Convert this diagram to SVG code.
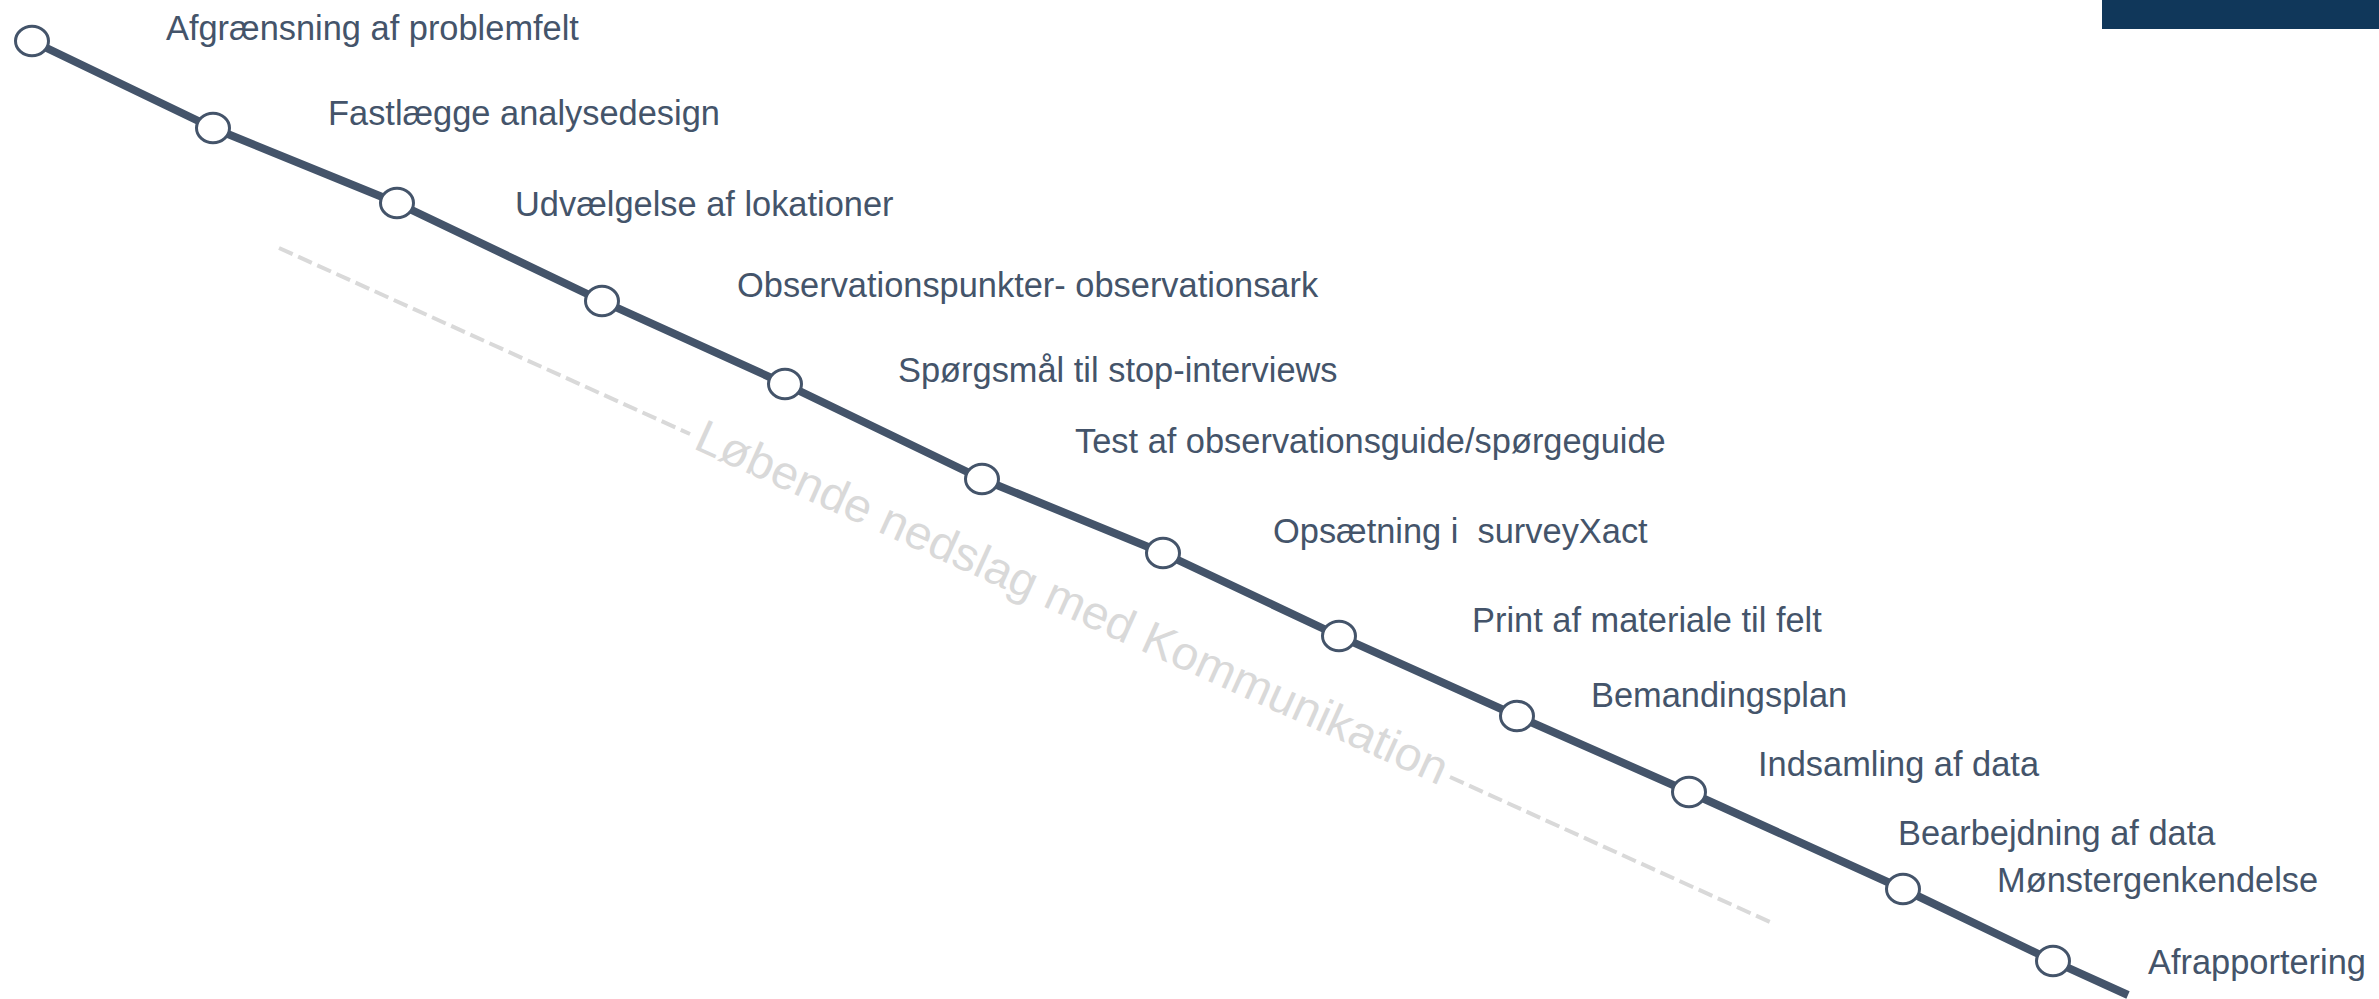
<svg xmlns="http://www.w3.org/2000/svg" width="2379" height="999" viewBox="0 0 2379 999">
<style>
.lbl{font-family:"Liberation Sans",Arial,sans-serif;font-size:34.4px;fill:#44546A}
.node{fill:#FFFFFF;stroke:#44546A;stroke-width:3}
.main{fill:none;stroke:#44546A;stroke-width:8;stroke-linejoin:round}
.dash{fill:none;stroke:#D9D9D9;stroke-width:4;stroke-dasharray:15 6}
.side{font-family:"Liberation Sans",Arial,sans-serif;font-size:47px;fill:#D9D9D9}
</style>
<rect x="2102" y="0" width="277" height="29" fill="#10375A"/>
<g id="connectors">
<polyline class="main" points="32,41 213,128 397,203 602,301 785,384 982,479 1163,553 1339,636 1517,716 1689,792 1903,889 2053,961 2128,995"/>
<line class="dash" x1="279" y1="248" x2="690" y2="434"/>
<line class="dash" x1="1450" y1="777" x2="1770" y2="922"/>
</g>
<g id="communication">
<text class="side" transform="translate(692,448) rotate(24.3)" x="0" y="0" textLength="820" lengthAdjust="spacingAndGlyphs">Løbende nedslag med Kommunikation</text>
</g>
<g id="n1"><ellipse class="node" cx="32" cy="41" rx="16.5" ry="14.8"/><text class="lbl" x="166" y="40">Afgrænsning af problemfelt</text></g>
<g id="n2"><ellipse class="node" cx="213" cy="128" rx="16.5" ry="14.8"/><text class="lbl" x="328" y="125">Fastlægge analysedesign</text></g>
<g id="n3"><ellipse class="node" cx="397" cy="203" rx="16.5" ry="14.8"/><text class="lbl" x="515" y="216">Udvælgelse af lokationer</text></g>
<g id="n4"><ellipse class="node" cx="602" cy="301" rx="16.5" ry="14.8"/><text class="lbl" x="737" y="297">Observationspunkter- observationsark</text></g>
<g id="n5"><ellipse class="node" cx="785" cy="384" rx="16.5" ry="14.8"/><text class="lbl" x="898" y="382">Spørgsmål til stop-interviews</text></g>
<g id="n6"><ellipse class="node" cx="982" cy="479" rx="16.5" ry="14.8"/><text class="lbl" x="1075" y="453">Test af observationsguide/spørgeguide</text></g>
<g id="n7"><ellipse class="node" cx="1163" cy="553" rx="16.5" ry="14.8"/><text class="lbl" x="1273" y="543" xml:space="preserve">Opsætning i  surveyXact</text></g>
<g id="n8"><ellipse class="node" cx="1339" cy="636" rx="16.5" ry="14.8"/><text class="lbl" x="1472" y="632">Print af materiale til felt</text></g>
<g id="n9"><ellipse class="node" cx="1517" cy="716" rx="16.5" ry="14.8"/><text class="lbl" x="1591" y="707">Bemandingsplan</text></g>
<g id="n10"><ellipse class="node" cx="1689" cy="792" rx="16.5" ry="14.8"/><text class="lbl" x="1758" y="776">Indsamling af data</text></g>
<g id="n11"><ellipse class="node" cx="1903" cy="889" rx="16.5" ry="14.8"/><text class="lbl" x="1898" y="845">Bearbejdning af data</text><text class="lbl" x="1997" y="892">Mønstergenkendelse</text></g>
<g id="n12"><ellipse class="node" cx="2053" cy="961" rx="16.5" ry="14.8"/><text class="lbl" x="2148" y="974">Afrapportering</text></g>
</svg>
